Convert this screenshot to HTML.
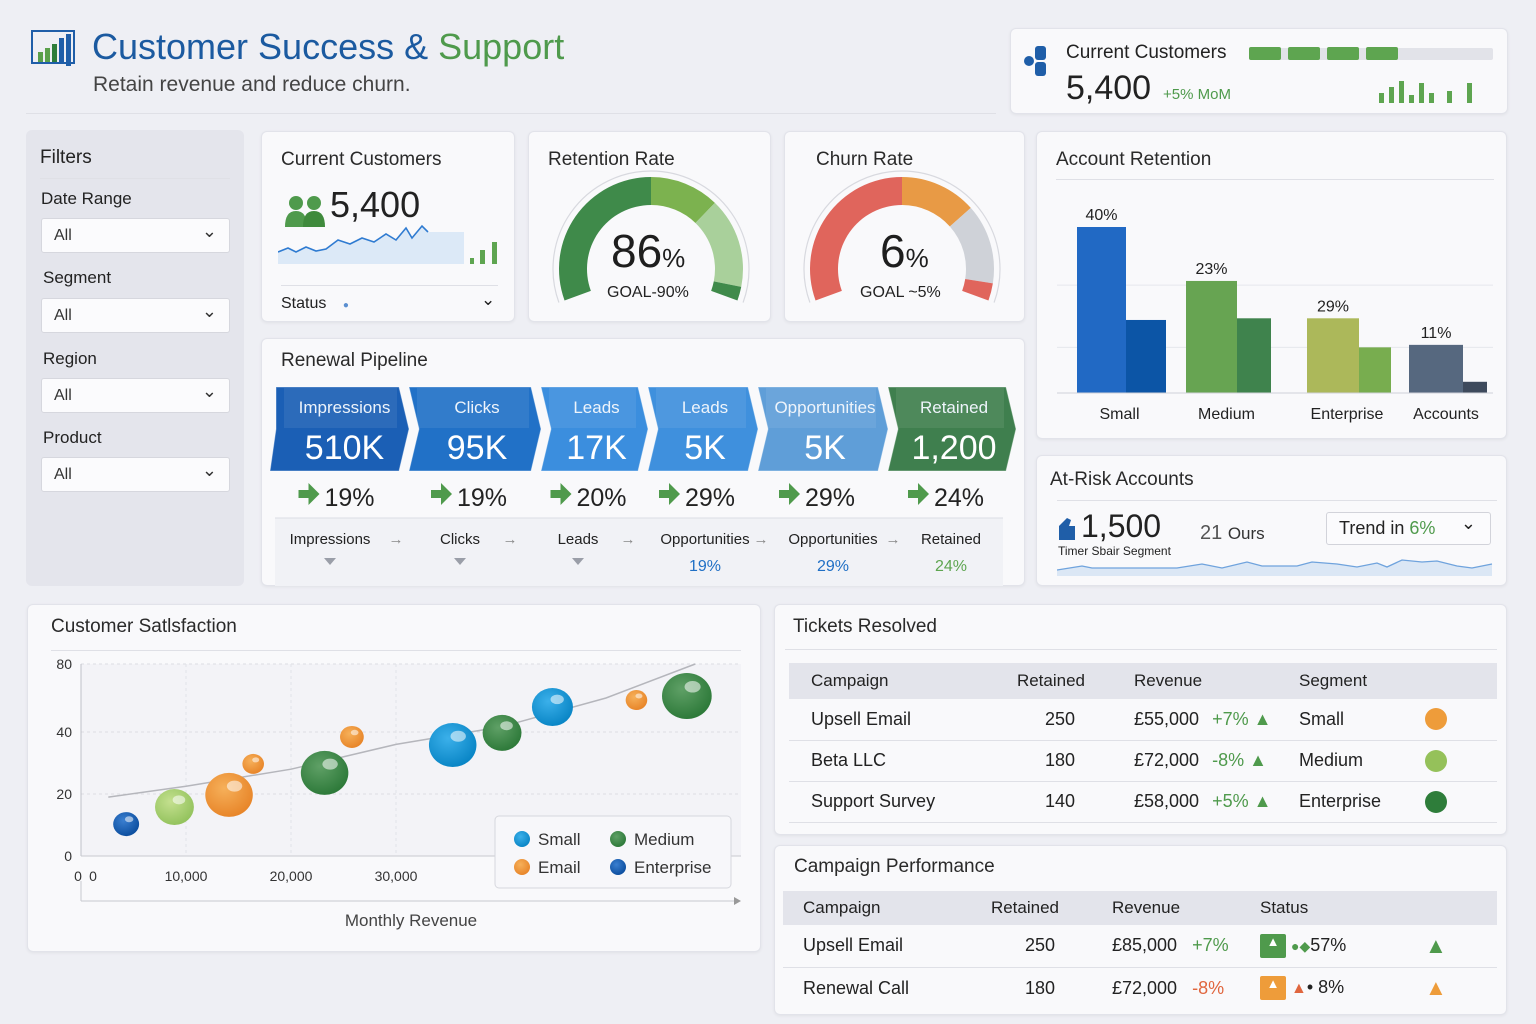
<!DOCTYPE html>
<html><head><meta charset="utf-8">
<style>
*{box-sizing:border-box;margin:0;padding:0}
body{width:1536px;height:1024px;background:#eeeff4;font-family:"Liberation Sans",sans-serif;color:#222;position:relative;overflow:hidden}
.abs{position:absolute}
.card{position:absolute;background:#f9f9fb;border:1px solid #e2e3ea;border-radius:6px;box-shadow:0 1px 3px rgba(0,0,0,.06)}
.t{position:absolute;white-space:nowrap}
.ttl{font-size:19px;color:#2a2a2a}
.sel{position:absolute;left:15px;width:189px;height:35px;background:#fbfbfd;border:1px solid #d6d7de;border-radius:3px;font-size:16px;padding:8px 12px;color:#333}
.sel:after{content:"⌄";position:absolute;right:12px;top:2px;font-size:18px}
.hr{position:absolute;height:1px;background:#dfe0e6}
table{border-collapse:collapse;font-size:18px;color:#222;table-layout:fixed}
td{white-space:nowrap}
</style></head><body>

<!-- header -->
<svg class="abs" style="left:30px;top:28px" width="48" height="42">
<rect x="2" y="3" width="42" height="32" fill="none" stroke="#1f5ea8" stroke-width="2"/>
<rect x="8" y="24" width="5" height="10" fill="#5aa04a"/><rect x="15" y="20" width="5" height="14" fill="#5aa04a"/><rect x="22" y="16" width="5" height="18" fill="#2e7d3a"/><rect x="29" y="10" width="5" height="24" fill="#1f5ea8"/><rect x="36" y="6" width="5" height="32" fill="#1f5ea8"/></svg>
<div class="t" style="left:92px;top:26px;font-size:36px;color:#1b5aa0">Customer Success &amp; <span style="color:#4f9a4c">Support</span></div>
<div class="t" style="left:93px;top:73px;font-size:21px;color:#444">Retain revenue and reduce churn.</div>
<div class="hr" style="left:26px;top:113px;width:970px"></div>

<div class="card" style="left:1010px;top:28px;width:498px;height:86px">
 <svg class="abs" style="left:12px;top:14px" width="28" height="34"><circle cx="6" cy="18" r="5" fill="#1f5ea8"/><rect x="12" y="3" width="11" height="14" rx="3" fill="#1f5ea8"/><rect x="12" y="19" width="11" height="14" rx="3" fill="#1f5ea8"/></svg>
 <div class="t" style="left:55px;top:13px;font-size:19px">Current Customers</div>
 <div class="abs" style="left:238px;top:19px;width:244px;height:12px;background:#e2e3e9;border-radius:2px"></div>
 <div class="abs" style="left:238px;top:18px;width:32px;height:13px;background:#5ea550;border-radius:2px"></div>
 <div class="abs" style="left:277px;top:18px;width:32px;height:13px;background:#5ea550;border-radius:2px"></div>
 <div class="abs" style="left:316px;top:18px;width:32px;height:13px;background:#5ea550;border-radius:2px"></div>
 <div class="abs" style="left:355px;top:18px;width:32px;height:13px;background:#5ea550;border-radius:2px"></div>
 <div class="t" style="left:55px;top:40px;font-size:34px">5,400</div>
 <div class="t" style="left:152px;top:57px;font-size:15px;color:#4f9a4c">+5% MoM</div>
 <svg class="abs" style="left:366px;top:50px" width="104" height="24"><g fill="#5ea550"><rect x="2" y="14" width="5" height="10"/><rect x="12" y="8" width="5" height="16"/><rect x="22" y="2" width="5" height="22"/><rect x="32" y="16" width="5" height="8"/><rect x="42" y="4" width="5" height="20"/><rect x="52" y="14" width="5" height="10"/><rect x="70" y="12" width="5" height="12"/><rect x="90" y="4" width="5" height="20"/></g></svg>
</div>

<!-- filters -->
<div class="abs" style="left:26px;top:130px;width:218px;height:456px;background:#e4e5ec;border-radius:6px">
 <div class="t" style="left:14px;top:17px;font-size:19px">Filters</div>
 <div class="hr" style="left:14px;top:48px;width:190px"></div>
 <div class="t" style="left:15px;top:59px;font-size:17px">Date Range</div>
 <div class="sel" style="top:88px">All</div>
 <div class="t" style="left:17px;top:138px;font-size:17px">Segment</div>
 <div class="sel" style="top:168px">All</div>
 <div class="t" style="left:17px;top:219px;font-size:17px">Region</div>
 <div class="sel" style="top:248px">All</div>
 <div class="t" style="left:17px;top:298px;font-size:17px">Product</div>
 <div class="sel" style="top:327px">All</div>
</div>

<!-- current customers card -->
<div class="card" style="left:261px;top:131px;width:254px;height:191px">
 <div class="t ttl" style="left:19px;top:17px">Current Customers</div>
 <svg class="abs" style="left:22px;top:62px" width="46" height="34"><circle cx="12" cy="9" r="7" fill="#4f9a4c"/><circle cx="30" cy="9" r="7" fill="#4f9a4c"/><path d="M1 33 q0-16 11-16 q11 0 11 16z" fill="#4f9a4c"/><path d="M19 33 q0-16 11-16 q11 0 11 16z" fill="#3f8a3c"/></svg>
 <div class="t" style="left:68px;top:52px;font-size:36px">5,400</div>
 <svg class="abs" style="left:16px;top:90px" width="225" height="44"><path d="M0 30 L10 26 L18 30 L28 25 L38 29 L48 27 L60 18 L72 22 L84 16 L96 20 L108 12 L118 18 L128 6 L134 16 L144 4 L150 10 L186 10 L186 42 L0 42Z" fill="#dce9f7"/><path d="M0 30 L10 26 L18 30 L28 25 L38 29 L48 27 L60 18 L72 22 L84 16 L96 20 L108 12 L118 18 L128 6 L134 16 L144 4 L150 10" fill="none" stroke="#2f7bd1" stroke-width="1.6"/><g fill="#5ea550"><rect x="192" y="36" width="4" height="6"/><rect x="202" y="28" width="5" height="14"/><rect x="214" y="20" width="5" height="22"/></g></svg>
 <div class="hr" style="left:19px;top:153px;width:217px"></div>
 <div class="t" style="left:19px;top:163px;font-size:16px">Status <span style="color:#5b8fd0;font-size:10px;margin-left:12px">●</span></div>
 <div class="t" style="left:219px;top:158px;font-size:17px">⌄</div>
</div>

<!-- gauges -->
<div class="card" style="left:528px;top:131px;width:243px;height:191px">
 <div class="t ttl" style="left:19px;top:17px">Retention Rate</div>
 <svg class="abs" style="left:0;top:0" width="243" height="191" id="g1"></svg>
 <div class="t" style="left:82px;top:92px;font-size:46px;color:#1e1e1e">86<span style="font-size:26px">%</span></div>
 <div class="t" style="left:78px;top:152px;font-size:16px">GOAL-90%</div>
</div>
<div class="card" style="left:784px;top:131px;width:241px;height:191px">
 <div class="t ttl" style="left:31px;top:17px">Churn Rate</div>
 <svg class="abs" style="left:0;top:0" width="241" height="191" id="g2"></svg>
 <div class="t" style="left:95px;top:92px;font-size:46px;color:#1e1e1e">6<span style="font-size:26px">%</span></div>
 <div class="t" style="left:75px;top:152px;font-size:16px">GOAL ~5%</div>
</div>

<!-- account retention -->
<div class="card" style="left:1036px;top:131px;width:471px;height:308px">
 <div class="t ttl" style="left:19px;top:17px">Account Retention</div>
 <div class="hr" style="left:19px;top:47px;width:438px"></div>
 <svg class="abs" style="left:0;top:0" width="471" height="308" id="bars"></svg>
</div>

<!-- pipeline -->
<div class="card" style="left:261px;top:338px;width:764px;height:248px">
 <div class="t ttl" style="left:19px;top:11px">Renewal Pipeline</div>
 <svg class="abs" style="left:0;top:0" width="764" height="248" id="pipe"></svg>
</div>

<!-- at-risk -->
<div class="card" style="left:1036px;top:455px;width:471px;height:131px">
 <div class="t ttl" style="left:13px;top:13px">At-Risk Accounts</div>
 <div class="hr" style="left:20px;top:44px;width:440px"></div>
 <svg class="abs" style="left:20px;top:58px" width="20" height="26"><path d="M2 26 V12 L10 4 L14 6 L12 12 L18 12 V26Z" fill="#1f5ea8"/></svg>
 <div class="t" style="left:44px;top:52px;font-size:32px">1,500</div>
 <div class="t" style="left:21px;top:88px;font-size:12px">Timer Sbair Segment</div>
 <div class="t" style="left:163px;top:66px;font-size:20px;color:#555">21 <span style="color:#333;font-size:17px">Ours</span></div>
 <div class="abs" style="left:289px;top:56px;width:165px;height:33px;border:1px solid #d2d3da;border-radius:3px;background:#fbfbfd;font-size:18px;padding:5px 12px">Trend in <span style="color:#4f9a4c">6%</span><span style="position:absolute;right:14px;top:0">⌄</span></div>
 <svg class="abs" style="left:20px;top:100px" width="440" height="20"><path d="M0 14 L25 10 L35 12 L120 12 L145 8 L165 12 L190 6 L205 10 L240 10 L255 6 L280 8 L300 11 L320 7 L330 11 L345 4 L365 6 L380 5 L400 10 L415 12 L435 8 L435 20 L0 20Z" fill="#dbe7f5"/><path d="M0 14 L25 10 L35 12 L120 12 L145 8 L165 12 L190 6 L205 10 L240 10 L255 6 L280 8 L300 11 L320 7 L330 11 L345 4 L365 6 L380 5 L400 10 L415 12 L435 8" fill="none" stroke="#6fa3dd" stroke-width="1.3"/></svg>
</div>

<!-- scatter -->
<div class="card" style="left:27px;top:604px;width:734px;height:348px">
 <div class="t ttl" style="left:23px;top:11px">Customer Satlsfaction</div>
 <div class="hr" style="left:23px;top:45px;width:690px"></div>
 <svg class="abs" style="left:-27px;top:-604px" width="800" height="960" id="scatter"></svg>
</div>

<!-- tickets -->
<div class="card" style="left:774px;top:604px;width:733px;height:231px">
 <div class="t ttl" style="left:18px;top:11px">Tickets Resolved</div>
 <div class="hr" style="left:10px;top:44px;width:712px"></div>
 <table class="abs" style="left:14px;top:58px;width:708px">
  <colgroup><col style="width:200px"><col style="width:100px"><col style="width:200px"><col style="width:110px"><col style="width:98px"></colgroup>
  <tr style="background:#e3e4eb;height:36px;font-size:17px"><td style="padding-left:22px">Campaign</td><td style="text-align:right;padding-right:4px">Retained</td><td style="padding-left:45px">Revenue</td><td colspan="2" style="padding-left:10px">Segment</td></tr>
  <tr style="height:41px;border-bottom:1px solid #dfe0e6"><td style="padding-left:22px">Upsell Email</td><td style="text-align:right;padding-right:14px">250</td><td style="padding-left:45px">£55,000 <span style="color:#4f9a4c;margin-left:8px">+7% ▲</span></td><td style="padding-left:10px">Small</td><td><span style="display:inline-block;width:22px;height:22px;border-radius:50%;background:#ee9c3a;margin-left:26px;vertical-align:middle"></span></td></tr>
  <tr style="height:41px;border-bottom:1px solid #dfe0e6"><td style="padding-left:22px">Beta LLC</td><td style="text-align:right;padding-right:14px">180</td><td style="padding-left:45px">£72,000 <span style="color:#4f9a4c;margin-left:8px">-8% ▲</span></td><td style="padding-left:10px">Medium</td><td><span style="display:inline-block;width:22px;height:22px;border-radius:50%;background:#95c15a;margin-left:26px;vertical-align:middle"></span></td></tr>
  <tr style="height:41px;border-bottom:1px solid #dfe0e6"><td style="padding-left:22px">Support Survey</td><td style="text-align:right;padding-right:14px">140</td><td style="padding-left:45px">£58,000 <span style="color:#4f9a4c;margin-left:8px">+5% ▲</span></td><td style="padding-left:10px">Enterprise</td><td><span style="display:inline-block;width:22px;height:22px;border-radius:50%;background:#2e7d3a;margin-left:26px;vertical-align:middle"></span></td></tr>
 </table>
</div>

<!-- campaign performance -->
<div class="card" style="left:774px;top:845px;width:733px;height:170px">
 <div class="t ttl" style="left:19px;top:10px">Campaign Performance</div>
 <table class="abs" style="left:8px;top:45px;width:714px">
  <colgroup><col style="width:190px"><col style="width:90px"><col style="width:177px"><col style="width:181px"><col style="width:76px"></colgroup>
  <tr style="background:#e3e4eb;height:34px;font-size:17px"><td style="padding-left:20px">Campaign</td><td style="text-align:right;padding-right:4px">Retained</td><td style="padding-left:49px">Revenue</td><td colspan="2" style="padding-left:20px">Status</td></tr>
  <tr style="height:42px;border-bottom:1px solid #dfe0e6"><td style="padding-left:20px">Upsell Email</td><td style="text-align:right;padding-right:8px">250</td><td style="padding-left:49px">£85,000 <span style="color:#4f9a4c;margin-left:10px">+7%</span></td><td style="padding-left:20px"><span style="display:inline-block;width:26px;height:24px;background:#4f9a4c;border-radius:2px;vertical-align:middle;color:#fff;font-size:13px;text-align:center">▲</span> <span style="color:#4f9a4c;font-size:14px">●◆</span>57%</td><td style="color:#4f9a4c;font-size:22px;padding-left:4px">▲</td></tr>
  <tr style="height:42px"><td style="padding-left:20px">Renewal Call</td><td style="text-align:right;padding-right:8px">180</td><td style="padding-left:49px">£72,000 <span style="color:#e0663e;margin-left:10px">-8%</span></td><td style="padding-left:20px"><span style="display:inline-block;width:26px;height:24px;background:#ee9c3a;border-radius:2px;vertical-align:middle;color:#fff;font-size:13px;text-align:center">▲</span> <span style="color:#e0663e;font-size:16px">▲</span>• 8%</td><td style="color:#ee9c3a;font-size:22px;padding-left:4px">▲</td></tr>
 </table>
</div>

<script>
const NS="http://www.w3.org/2000/svg";
function mk(p,tag,attrs,txt){const e=document.createElementNS(NS,tag);for(const k in attrs)e.setAttribute(k,attrs[k]);if(txt!==undefined)e.textContent=txt;p.appendChild(e);return e;}

/* ---------- gauges ---------- */
const retentionSegments=[[0,50,"#3f8a4a"],[50,70,"#7cb24f"],[70,96,"#a9d09b"],[96,100,"#3f8a4a"]];
const churnSegments=[[0,50,"#e0655c"],[50,72,"#e89a45"],[72,95,"#cfd2d8"],[95,100,"#e0655c"]];
function gauge(id,cx,cy,segs){
 const s=document.getElementById(id);
 const R=92,r=64,a0=200,a1=-20;
 const ang=p=>(a0+(a1-a0)*p/100)*Math.PI/180;
 const pt=(a,rr)=>[cx+rr*Math.cos(a),cy-rr*Math.sin(a)];
 const oa=ang(0),ob=ang(100);
 const p1=pt(oa,R+6),p2=pt(ob,R+6);
 mk(s,"path",{d:`M${p1[0]} ${p1[1]} A${R+6} ${R+6} 0 1 1 ${p2[0]} ${p2[1]}`,fill:"none",stroke:"#d8d9df","stroke-width":1.2});
 segs.forEach(g=>{
  const a=ang(g[0]),b=ang(g[1]);
  const A=pt(a,R),B=pt(b,R),C=pt(b,r),D=pt(a,r);
  const large=Math.abs(g[1]-g[0])*2.2>180?1:0;
  const el=mk(s,"path",{d:`M${A[0]} ${A[1]} A${R} ${R} 0 ${large} 1 ${B[0]} ${B[1]} L${C[0]} ${C[1]} A${r} ${r} 0 ${large} 0 ${D[0]} ${D[1]}Z`,fill:g[2]});
  
  
 });
}
gauge("g1",122,137,retentionSegments);
gauge("g2",117,137,churnSegments);

/* ---------- account retention bars ---------- */
const barCategories=["Small","Medium","Enterprise","Accounts"];
const barPrimary=[40,27,18,11.6];
const barSecondary=[17.6,18,11,2.7];
const barLabels=["40%","23%","29%","11%"];
const primaryColors=["#2169c4","#67a452","#acb85a","#56687f"];
const secondaryColors=["#0c55a6","#3f834d","#78ad4f","#3e4a5c"];
(function(){
 const s=document.getElementById("bars");
 const base=261,k=4.15;
 const y=v=>base-v*k;
 [11,26].forEach(v=>mk(s,"line",{x1:20,x2:456,y1:y(v),y2:y(v),stroke:"#e6e7ec"}));
 const groupX=[40,149,270,372],wP=[49,51,52,54],wS=[40,34,32,24];
 barCategories.forEach((c,i)=>{
  const x=groupX[i];
  const b1=mk(s,"rect",{x:x,y:y(barPrimary[i]),width:wP[i],height:barPrimary[i]*k,fill:primaryColors[i]});
  
  
  const b2=mk(s,"rect",{x:x+wP[i],y:y(barSecondary[i]),width:wS[i],height:barSecondary[i]*k,fill:secondaryColors[i]});
  
  
  const l=mk(s,"text",{x:x+wP[i]/2,y:y(barPrimary[i])-7,"text-anchor":"middle","font-size":16,fill:"#222"},barLabels[i]);
  
  
  const cl=mk(s,"text",{x:x+(wP[i]+wS[i])/2-2,y:287,"text-anchor":"middle","font-size":16,fill:"#222"},c);
  
  
 });
 mk(s,"line",{x1:20,x2:456,y1:base,y2:base,stroke:"#d0d1d8"});
})();

/* ---------- pipeline ---------- */
const stageNames=["Impressions","Clicks","Leads","Leads","Opportunities","Retained"];
const stageValues=["510K","95K","17K","5K","5K","1,200"];
const stageRates=["19%","19%","20%","29%","29%","24%"];
const flowLabels=["Impressions","Clicks","Leads","Opportunities","Opportunities","Retained"];
const flowRates=["","","","19%","29%","24%"];
(function(){
 const s=document.getElementById("pipe");
 mk(s,"rect",{x:13,y:179,width:728,height:68,fill:"#f1f2f6"});
 mk(s,"line",{x1:13,x2:741,y1:179,y2:179,stroke:"#dcdde4"});
 const xs=[14,147,279,386,496,626,754],cols=["#1b5fb5","#2171c7","#3b8ede","#3f90dd","#5f9ed8","#3f7f4e"],top=48,h=84;
 stageNames.forEach((n,i)=>{
  const a=xs[i],b=xs[i+1],tip=10;
  const seg=mk(s,"path",{d:`M${a} ${top} L${b-tip} ${top} L${b} ${top+h/2} L${b-tip} ${top+h} L${a-(i?0:6)} ${top+h} L${a+(i?tip:0)} ${top+h/2}Z`,fill:cols[i],stroke:"rgba(255,255,255,.4)"});
  
  
  mk(s,"rect",{x:a+8,y:top+1,width:b-a-20,height:40,fill:"rgba(255,255,255,.08)"});
  const cx=(a+b)/2+2;
  mk(s,"text",{x:cx,y:top+26,"text-anchor":"middle","font-size":17,fill:"#eef4fb"},n);
  mk(s,"text",{x:cx,y:top+72,"text-anchor":"middle","font-size":34,fill:"#fff"},stageValues[i]);
  mk(s,"path",{d:`M${cx-46} ${151} h10 v-7 l11 11 l-11 11 v-7 h-10z`,fill:"#4f9a4c"});
  mk(s,"text",{x:cx-20,y:167,"font-size":25,fill:"#222"},stageRates[i]);
  const fx=[68,198,316,443,571,689][i];
  mk(s,"text",{x:fx,y:205,"text-anchor":"middle","font-size":15,fill:"#222"},flowLabels[i]);
  if(i<5) mk(s,"text",{x:fx+[66,50,50,56,60][i],y:205,"text-anchor":"middle","font-size":15,fill:"#888"},"→");
  if(flowRates[i]) mk(s,"text",{x:fx,y:232,"text-anchor":"middle","font-size":16,fill:i==5?"#5ea550":"#1f6fc5"},flowRates[i]);
  else mk(s,"path",{d:`M${fx-6} 219 h12 l-6 7z`,fill:"#9a9ea8"});
 });
})();

/* ---------- scatter ---------- */
const bubbleRevenue=[4300,8900,14100,16400,23200,25800,35400,40100,44900,52900,57700];
const bubbleSatisfaction=[10.3,15.8,19.7,29.7,26.8,38.4,35.8,39.7,54.7,58.8,61.2];
const bubbleSize=[12,18,22,10,22,11,22,18,19,10,23];
const bubbleSegment=["enterprise","medium-light","email","email","medium","email","small","medium","small","email","medium"];
const trendRevenue=[2600,10000,20000,30000,40000,50000,58500];
const trendSatisfaction=[19,22.5,28,36,43,60,80];
const yTicks=[0,20,40,80];
const xTicks=[0,10000,20000,30000];
const xTickLabels=["0","10,000","20,000","30,000"];
(function(){
 const s=document.getElementById("scatter");
 const yPix=[855,793,731,663];
 const X=v=>80+v*0.0105;
 const Y=v=>{for(let i=0;i<yTicks.length-1;i++){if(v<=yTicks[i+1]){const t=(v-yTicks[i])/(yTicks[i+1]-yTicks[i]);return yPix[i]+t*(yPix[i+1]-yPix[i]);}}const n=yTicks.length-1;return yPix[n]+(v-yTicks[n])/(yTicks[n]-yTicks[n-1])*(yPix[n]-yPix[n-1]);};
 const defs=mk(s,"defs",{});
 const cols={"enterprise":["#3a7fd0","#0d4fa0"],"medium-light":["#c4e08f","#94c35e"],"email":["#f6b05a","#e8862a"],"medium":["#5fa066","#2e7a3a"],"small":["#3bb0ea","#0a86c6"]};
 for(const k in cols){const g=mk(defs,"radialGradient",{id:"g-"+k,cx:"40%",cy:"35%",r:"65%"});mk(g,"stop",{offset:"0%","stop-color":cols[k][0]});mk(g,"stop",{offset:"100%","stop-color":cols[k][1]});}
 mk(s,"rect",{x:80,y:663,width:660,height:192,fill:"#f3f3f7"});
 yTicks.forEach(v=>{mk(s,"line",{x1:80,x2:740,y1:Y(v),y2:Y(v),stroke:"#dcdde3","stroke-dasharray":"3 3"});
  const t=mk(s,"text",{x:71,y:Y(v)+5,"text-anchor":"end","font-size":14,fill:"#333"},String(v));});
 xTicks.forEach((v,i)=>{if(v>0)mk(s,"line",{x1:X(v),x2:X(v),y1:663,y2:855,stroke:"#e2e3e8","stroke-dasharray":"3 3"});
  const t=mk(s,"text",{x:X(v)+(v?0:12),y:880,"text-anchor":"middle","font-size":14,fill:"#333"},xTickLabels[i]);});
 mk(s,"text",{x:77,y:880,"text-anchor":"middle","font-size":14,fill:"#333"},"0");
 mk(s,"line",{x1:80,x2:80,y1:663,y2:855,stroke:"#bfc1c8"});
 mk(s,"line",{x1:80,x2:740,y1:855,y2:855,stroke:"#c8c9cf"});
 mk(s,"line",{x1:80,x2:735,y1:900,y2:900,stroke:"#c8c9cf"});
 mk(s,"path",{d:"M733 896 l7 4 l-7 4z",fill:"#999"});
 mk(s,"line",{x1:80,x2:80,y1:880,y2:900,stroke:"#c8c9cf"});
 const xl=mk(s,"text",{x:410,y:925,"text-anchor":"middle","font-size":17,fill:"#444"},"Monthly Revenue");
 
 const tp=trendRevenue.map((v,i)=>(i?"L":"M")+X(v)+" "+Y(trendSatisfaction[i])).join(" ");
 const tl=mk(s,"path",{d:tp,fill:"none",stroke:"#b5b6bc","stroke-width":1.5});
 
 bubbleRevenue.forEach((v,i)=>{
  const cx=X(v),cy=Y(bubbleSatisfaction[i]),r=bubbleSize[i];
  const c=mk(s,"ellipse",{cx:cx,cy:cy,rx:r*1.08,ry:r,fill:"url(#g-"+bubbleSegment[i]+")"});
  
  
  mk(s,"ellipse",{cx:cx+r*0.25,cy:cy-r*0.4,rx:r*0.35,ry:r*0.25,fill:"rgba(255,255,255,.55)"});
 });
 const lg=mk(s,"g",{});
 
 mk(lg,"rect",{x:494,y:815,width:236,height:72,rx:4,fill:"#f7f7fa",stroke:"#d6d7dd"});
 [["Small","small",521,838],["Medium","medium",617,838],["Email","email",521,866],["Enterprise","enterprise",617,866]].forEach(e=>{
  mk(lg,"circle",{cx:e[2],cy:e[3],r:8,fill:"url(#g-"+e[1]+")"});
  mk(lg,"text",{x:e[2]+16,y:e[3]+6,"font-size":17,fill:"#333"},e[0]);
 });
})();
</script>
</body></html>
